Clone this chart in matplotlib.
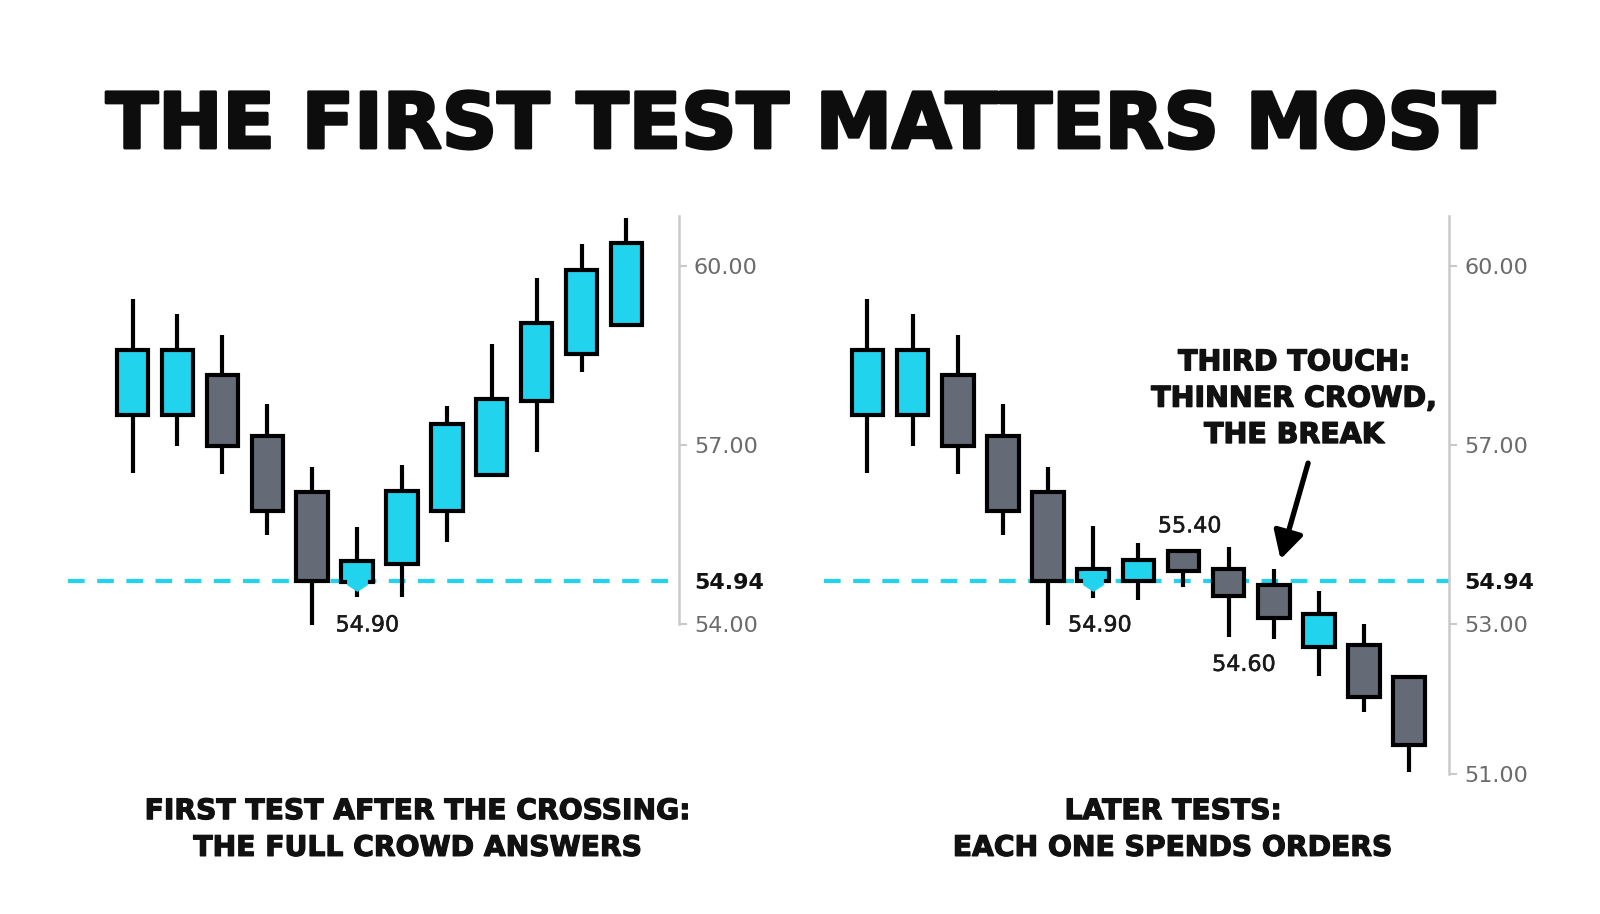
import numpy as np
import matplotlib
matplotlib.use('Agg')
import matplotlib.pyplot as plt
import matplotlib.patheffects as pe

# colores
CYAN = '#22d3ee'
GRIS = '#646b76'
EJE = '#c9c9c9'
TEXTO_EJE = '#6b6b6b'

# Datos de las velas (precio en la escala dibujada)
# panel izquierdo: primer test y rebote
izq_open = [57.50, 57.50, 58.17, 57.16, 56.22, 54.71, 55.01, 55.90, 56.50, 57.74, 58.52, 59.01]
izq_close = [58.59, 58.59, 56.99, 55.89, 54.72, 55.06, 56.24, 57.36, 57.77, 59.05, 59.94, 60.38]
izq_high = [59.45, 59.19, 58.84, 57.69, 56.63, 55.63, 56.66, 57.65, 58.69, 59.80, 60.37, 60.80]
izq_low = [56.54, 56.98, 56.52, 55.49, 53.98, 54.46, 54.46, 55.38, 56.50, 56.89, 58.23, 59.01]

# panel derecho: tests repetidos y ruptura
der_open = [57.50, 57.50, 58.17, 57.16, 56.22, 54.72, 54.72, 55.23, 54.92, 54.65, 53.62, 53.66, 53.11]
der_close = [58.59, 58.59, 56.99, 55.89, 54.72, 54.92, 55.08, 54.89, 54.48, 54.10, 54.17, 52.79, 51.97]
der_high = [59.45, 59.19, 58.84, 57.69, 56.63, 55.64, 55.37, 55.23, 55.30, 54.92, 54.55, 54.00, 53.11]
der_low = [56.54, 56.98, 56.52, 55.49, 53.98, 54.44, 54.41, 54.63, 53.79, 53.76, 53.13, 52.53, 51.52]

soporte = 54.72  # nivel dibujado de la linea punteada
toque = 5        # vela que toca el soporte por primera vez

izq_ticks = [60.0, 57.0, soporte, 54.0]
izq_labels = ['60.00', '57.00', '54.94', '54.00']
der_ticks = [60.0, 57.0, soporte, 54.0, 51.5]
der_labels = ['60.00', '57.00', '54.94', '53.00', '51.00']

titulo = 'THE FIRST TEST MATTERS MOST'
texto_izq = ['FIRST TEST AFTER THE CROSSING:', 'THE FULL CROWD ANSWERS']
texto_der = ['LATER TESTS:', 'EACH ONE SPENDS ORDERS']
nota = 'THIRD TOUCH:\nTHINNER CROWD,\nTHE BREAK'

plt.rcParams['font.family'] = ['DejaVu Sans']

W, H = 1568.0, 896.0  # coordenadas de referencia

# marcador: triangulo ancho que tapa el borde inferior de la vela
punta = [(-1, 1), (1, 1), (1, -0.35), (0, -1), (-1, -0.35), (-1, 1)]


def caja(x0, x1, y0, y1):
    return [x0 / W, 1 - y1 / H, (x1 - x0) / W, (y1 - y0) / H]


def grueso(lw, col='#111111'):
    return [pe.withStroke(linewidth=lw, foreground=col)]


def velas(ax, o, c, h, l):
    o, c, h, l = map(np.array, (o, c, h, l))
    x = np.arange(len(o))
    sube = c > o
    colores = np.where(sube, CYAN, GRIS)
    ax.vlines(x, l, h, color='black', lw=3.0, zorder=2)
    ax.bar(x, np.abs(c - o), bottom=np.minimum(o, c), width=0.70,
           color=colores, edgecolor='black', linewidth=3.0, zorder=3)


def preparar_eje(ax, ticks, labels, ymin_spine):
    ax.set_ylim(51.30, 61.04)
    for s in ['top', 'left', 'bottom']:
        ax.spines[s].set_visible(False)
    ax.spines['right'].set_color(EJE)
    ax.spines['right'].set_linewidth(1.8)
    ax.spines['right'].set_bounds(ymin_spine, 60.84)
    ax.set_xticks([])
    ax.yaxis.tick_right()
    ax.set_yticks(ticks)
    ax.set_yticklabels(labels)
    ax.tick_params(axis='y', length=6, width=1.5, color=EJE, pad=5,
                   labelsize=16, labelcolor=TEXTO_EJE)
    for t, lab in zip(ax.yaxis.get_major_ticks(), labels):
        if lab == '54.94':
            t.tick2line.set_visible(False)
            t.label2.set_color('#111111')
            t.label2.set_fontweight('bold')
    ax.axhline(soporte, color=CYAN, lw=3, ls=(0, (4, 3)), zorder=1)
    ax.patch.set_alpha(0)


fig = plt.figure(figsize=(16, 9.14), dpi=100)
fig.patch.set_facecolor('white')

ax1 = fig.add_axes(caja(67, 665, 200, 770))
ax1.set_xlim(-1.43, 12.16)
preparar_eje(ax1, izq_ticks, izq_labels, 54.0)
velas(ax1, izq_open, izq_close, izq_high, izq_low)
ax1.plot([toque], [soporte], marker=punta, ms=15, color=CYAN, mec='none', zorder=4)
ax1.text(5.23, 53.98, '54.90', ha='center', va='center', fontsize=16,
         color='#1a1a1a', path_effects=grueso(0.35, '#1a1a1a'))

ax2 = fig.add_axes(caja(808, 1420, 200, 770))
ax2.set_xlim(-0.95, 12.88)
preparar_eje(ax2, der_ticks, der_labels, 51.5)
velas(ax2, der_open, der_close, der_high, der_low)
ax2.plot([toque], [soporte], marker=punta, ms=15, color=CYAN, mec='none', zorder=4)
for xx, yy, t in [(5.15, 53.98, '54.90'), (7.14, 55.64, '55.40'), (8.34, 53.32, '54.60')]:
    ax2.text(xx, yy, t, ha='center', va='center', fontsize=16, color='#1a1a1a',
             path_effects=grueso(0.35, '#1a1a1a'))

# anotacion del tercer toque
ax2.text(9.45, 57.78, nota, ha='center', va='center', multialignment='center',
         fontsize=20.5, fontweight='bold', color='#111111', linespacing=1.38,
         path_effects=grueso(1.0))
ax2.annotate('', xy=(9.15, 55.09), xytext=(9.76, 56.70),
             arrowprops=dict(arrowstyle='-|>,head_length=0.55,head_width=0.3',
                             lw=3.8, color='black', mutation_scale=30,
                             shrinkA=0, shrinkB=0))

# titulo y textos inferiores
fig.text(0.5, 1 - 145 / H, titulo, ha='center', va='baseline',
         fontsize=55.3, fontweight='bold', color='#0d0d0d',
         path_effects=grueso(2.2, '#0d0d0d'))
for i, linea in enumerate(texto_izq):
    fig.text(410 / W, 1 - (803 + 36 * i) / H, linea, ha='center', va='baseline',
             fontsize=20.3, fontweight='bold', color='#111111', path_effects=grueso(0.9))
for i, linea in enumerate(texto_der):
    fig.text(1150 / W, 1 - (803 + 36 * i) / H, linea, ha='center', va='baseline',
             fontsize=20.3, fontweight='bold', color='#111111', path_effects=grueso(0.9))

fig.savefig('out.png', dpi=100, facecolor='white')
